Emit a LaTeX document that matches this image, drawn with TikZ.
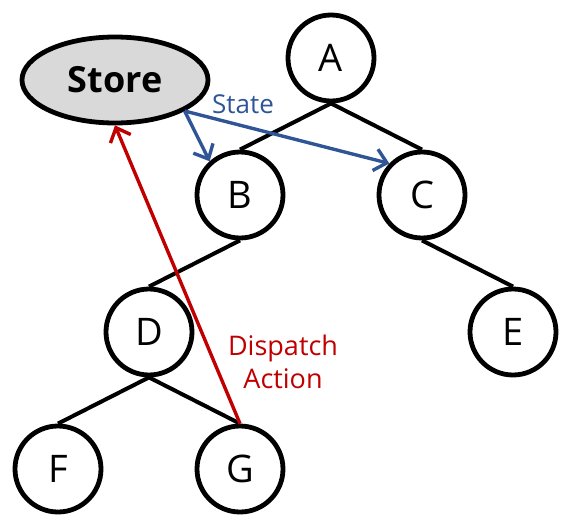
\documentclass[tikz,border=0pt]{standalone}
\usepackage{fontspec}
\setmainfont{Open Sans}
\usetikzlibrary{positioning}
\usetikzlibrary{shapes.geometric}
\usetikzlibrary{arrows.meta}
\definecolor{storeGray}{HTML}{d9d9d9}
\definecolor{stateBlue}{HTML}{2f5597}
\definecolor{actionRed}{HTML}{c00000}

\begin{document}
\begin{tikzpicture}[x=0.5pt, y=-0.5pt, inner sep=0.0 pt, align=center,
    treenode/.style={draw, circle, line width=2.4pt, minimum size=43pt, font=\fontsize{19}{23}\selectfont},
    treeedge/.style={line width=2pt},
    flowarrow/.style={line width=1.7pt, -{Straight Barb[length=6pt, width=11pt, line width=1.7pt]}}]
    \useasboundingbox (0,0) rectangle (568,530);
    \pgfmathsetmacro{\stepX}{45.5}
    \pgfmathsetmacro{\stepY}{68.5}

    \node [treenode] (A) at (331,58) {A};
    \node [treenode, below left=\stepY*1pt and \stepX*1pt of A.center, anchor=center] (B) {B};
    \node [treenode, below right=\stepY*1pt and \stepX*1pt of A.center, anchor=center] (C) {C};
    \node [treenode, below left=\stepY*1pt and \stepX*1pt of B.center, anchor=center] (D) {D};
    \node [treenode, below right=\stepY*1pt and \stepX*1pt of C.center, anchor=center] (E) {E};
    \node [treenode, below left=\stepY*1pt and \stepX*1pt of D.center, anchor=center] (F) {F};
    \node [treenode, below right=\stepY*1pt and \stepX*1pt of D.center, anchor=center] (G) {G};

    \draw [treeedge] (A.south) -- (B.north);
    \draw [treeedge] (A.south) -- (C.north);
    \draw [treeedge] (B.south) -- (D.north);
    \draw [treeedge] (C.south) -- (E.north);
    \draw [treeedge] (D.south) -- (F.north);
    \draw [treeedge] (D.south) -- (G.north);

    \node [draw, ellipse, fill=storeGray, line width=2.4pt, minimum width=93pt, minimum height=43pt, font=\bfseries\fontsize{18}{22}\selectfont] (Store) at (115,80) {Store};

    \node [text=stateBlue, font=\fontsize{13}{16}\selectfont] (stateLabel) at (243,104) {State};
    \node [text=actionRed, font=\fontsize{13.5}{16.5}\selectfont] (actionLabel) at (283,362) {Dispatch\\Action};

    \draw [flowarrow, stateBlue] (Store.-24) -- (B.132);
    \draw [flowarrow, stateBlue] (Store.-24) -- (C.136);
    \draw [flowarrow, actionRed] (G.north) -- (Store.south);
\end{tikzpicture}
\end{document}
